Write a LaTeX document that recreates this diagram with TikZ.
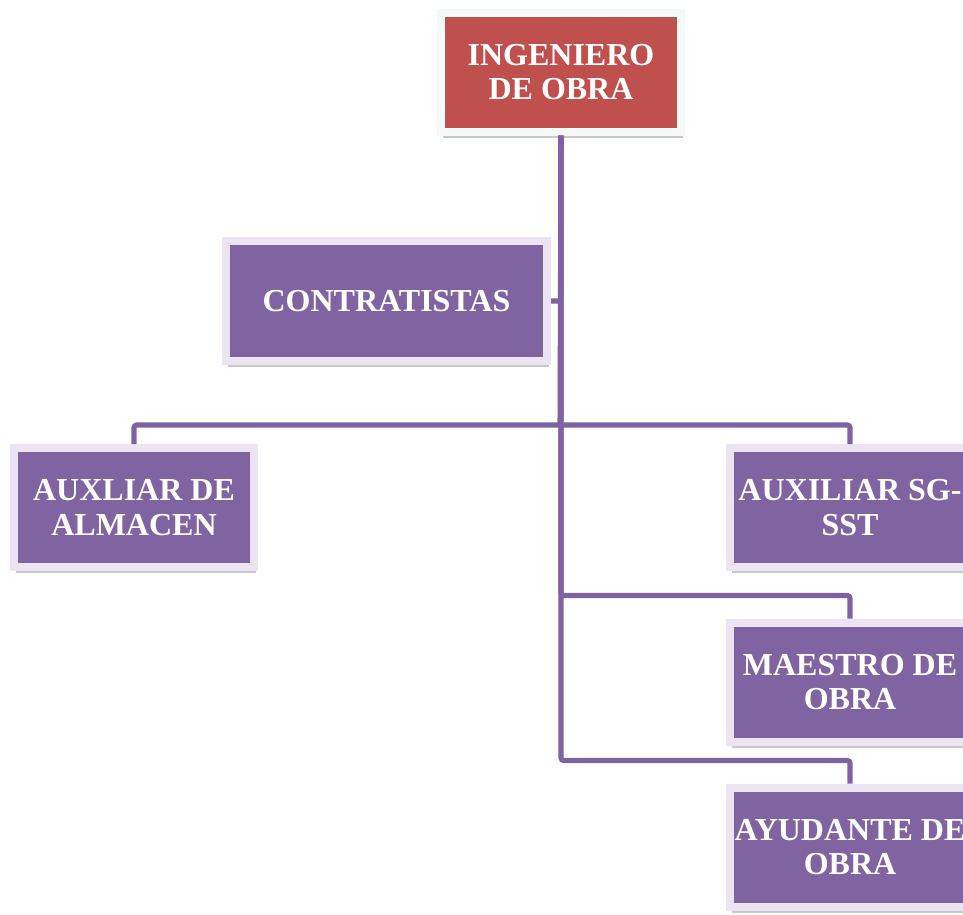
\documentclass[tikz,border=0pt]{standalone}
\usepackage{fontspec}
\setmainfont{Liberation Serif}
\usetikzlibrary{shadows,calc}
\definecolor{boxred}{HTML}{C0504D}
\definecolor{boxpurple}{HTML}{8064A2}
\definecolor{linepurple}{HTML}{7E62A1}
\definecolor{framepurple}{HTML}{ECE4F3}
\definecolor{framered}{HTML}{F3FAF7}
\tikzset{
  orgbox/.style={rectangle, draw=framepurple, line width=6pt, fill=boxpurple,
    minimum width=240*0.75pt, minimum height=119*0.75pt, inner sep=0pt,
    text=white, align=center,
    font=\fontsize{24}{26}\selectfont\bfseries,
    drop shadow={shadow xshift=1.2pt, shadow yshift=-4.8pt, opacity=0.3, fill=black!70}},
  topbox/.style={orgbox, draw=framered, fill=boxred},
  conn/.style={draw=linepurple, line width=3.8pt, rounded corners=2pt}
}
\begin{document}
\begin{tikzpicture}[x=0.75pt,y=-0.75pt]
\useasboundingbox (0,0) rectangle (963,914);
\clip (0,0) rectangle (963,914);
\node[topbox] (ing) at (561,72) {INGENIERO\\DE OBRA};
\node[orgbox, minimum width=321*0.75pt, minimum height=120*0.75pt] (con) at (386.5,301) {CONTRATISTAS};
\node[orgbox] (alm) at (134,507.5) {AUXLIAR DE\\ALMACEN};
\node[orgbox] (sst) at (850,507.5) {AUXILIAR SG-\\SST};
\node[orgbox] (mae) at (850,682) {MAESTRO DE\\OBRA};
\node[orgbox] (ayu) at (850,847) {AYUDANTE DE\\OBRA};
\coordinate (bar) at (560,425);
\draw[conn] (ing.south) |- (con.east);
\draw[conn] (ing.south) -- (bar);
\draw[conn] (bar) -| (alm.north);
\draw[conn] (bar) -| (sst.north);
\draw[conn] (ing.south) |- ($(mae.north)+(0,-23)$) -- (mae.north);
\draw[conn] (ing.south) |- ($(ayu.north)+(0,-23)$) -- (ayu.north);
\end{tikzpicture}
\end{document}
